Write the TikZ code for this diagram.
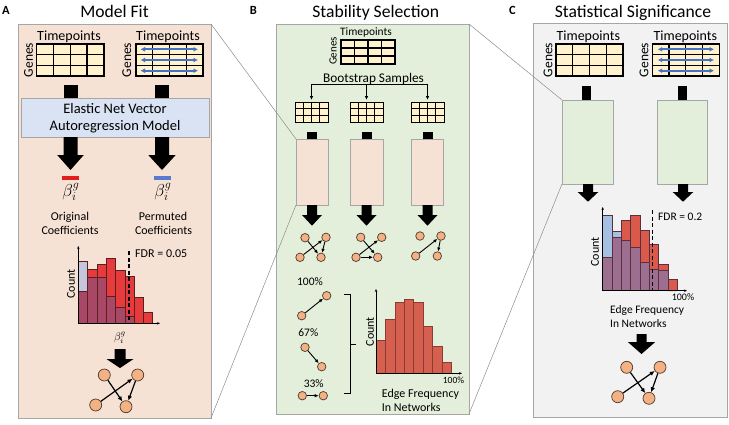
\documentclass[tikz,border=0pt]{standalone}
\usepackage{fontspec}
\setmainfont{Carlito}
\usetikzlibrary{arrows.meta}
\definecolor{pAfill}{HTML}{F6E2D5}
\definecolor{pBfill}{HTML}{E3EFDA}
\definecolor{pCfill}{HTML}{F2F2F2}
\definecolor{bordergray}{HTML}{A6A6A6}
\definecolor{enfill}{HTML}{DAE3F3}
\definecolor{cellfill}{HTML}{FFF2CC}
\definecolor{arrblue}{HTML}{4472C4}
\definecolor{nodefill}{HTML}{F4B183}
\definecolor{nodeline}{HTML}{4A3A30}
\definecolor{hAblue}{HTML}{C5C6DB}
\definecolor{hAred}{HTML}{E63A3C}
\definecolor{hAov}{HTML}{A94766}
\definecolor{hAline}{HTML}{5A2020}
\definecolor{hCblue}{HTML}{A6C0E4}
\definecolor{hCred}{HTML}{D95A4B}
\definecolor{hCov}{HTML}{9C6E90}
\definecolor{hCline}{HTML}{5A3040}
\definecolor{hBred}{HTML}{D5604F}
\definecolor{hBline}{HTML}{8C3B2F}
\definecolor{zoomgray}{HTML}{8C8C8C}
\definecolor{redbar}{HTML}{E31C1C}
\definecolor{bluebar}{HTML}{5A7ACD}
\tikzset{
  panel/.style={draw=bordergray, line width=0.9pt, inner sep=0pt, outer sep=0pt},
  txt/.style={font=\fontsize{#1}{#1}\selectfont, inner sep=0pt},
  boldlbl/.style={font=\fontsize{12.5}{12.5}\selectfont\bfseries, inner sep=0pt},
  gridl/.style={line width=1.3pt, black},
  gridls/.style={line width=1pt, black},
  netnode/.style={circle, fill=nodefill, draw=nodeline, line width=0.7pt, inner sep=0pt, minimum size=12pt},
  netnodeS/.style={netnode, minimum size=8.5pt},
  netedge/.style={-{Latex[length=5pt,width=4.5pt]}, line width=1.2pt},
  netedgeS/.style={-{Latex[length=4pt,width=3.5pt]}, line width=0.9pt},
  zoomline/.style={zoomgray, line width=0.5pt},
  axisl/.style={line width=0.6pt, -{Stealth[length=3pt,width=2.5pt]}},
  fdrline/.style={dash pattern=on 4pt off 2.5pt, line width=1.1pt},
  blueDA/.style={{Latex[length=4.5pt,width=5pt]}-{Latex[length=4.5pt,width=5pt]}, arrblue, line width=2pt},
  modelbox/.style={draw=bordergray, line width=0.8pt, inner sep=0pt, outer sep=0pt}
}
\newcommand{\gtab}[5]{%
  \fill[cellfill] (#2,#3) rectangle (#4,#5);
  \foreach \k in {1,2,3} \draw[#1] ({#2+\k*(#4-#2)/4},#3) -- ({#2+\k*(#4-#2)/4},#5);
  \foreach \k in {1,2} \draw[#1] (#2,{#3+\k*(#5-#3)/3}) -- (#4,{#3+\k*(#5-#3)/3});
  \draw[#1] (#2,#3) rectangle (#4,#5);
}
\newcommand{\blockarrow}[6]{%
  \fill[black] ({#1-#5},#2) -- ({#1+#5},#2) -- ({#1+#5},#3) -- ({#1+#6},#3) -- (#1,#4) -- ({#1-#6},#3) -- ({#1-#5},#3) -- cycle;
}
\newcommand{\bgi}{\ensuremath{\boldsymbol{\beta}_{i}^{g}}}
\begin{document}
\begin{tikzpicture}[x=1pt,y=-1pt]
\useasboundingbox (0,0) rectangle (729,424);

% ---------- panels ----------
\node[panel, fill=pAfill, minimum width=193pt, minimum height=394pt] (pA) at (114.5,221) {};
\node[panel, fill=pBfill, minimum width=193pt, minimum height=390pt] (pB) at (372.5,219) {};
\node[panel, fill=pCfill, minimum width=194pt, minimum height=394pt] (pC) at (630,220) {};

% labels and titles
\node[boldlbl] (labA) at (6,10) {A};
\node[boldlbl] (labB) at (253.5,10) {B};
\node[boldlbl] (labC) at (512.5,10) {C};
\node[txt=17.6, anchor=base] (titA) at (114.5,17.5) {Model Fit};
\node[txt=17.6, anchor=base] (titB) at (375.8,17.5) {Stability Selection};
\node[txt=17.6, anchor=base] (titC) at (633,17.5) {Statistical Significance};

% ---------- panel A ----------
\gtab{gridl}{36.5}{44}{104}{76}
\gtab{gridl}{136}{44}{203}{76}
\foreach \yy in {49.3,60,70.7} \draw[blueDA] (140.5,\yy) -- (198,\yy);
\node[txt=14, anchor=base] (tpA1) at (69,40.7) {Timepoints};
\node[txt=14, anchor=base] (tpA2) at (168,40.7) {Timepoints};
\node[txt=13.5, rotate=90] (gnA1) at (28.5,60) {Genes};
\node[txt=13.5, rotate=90] (gnA2) at (126.7,60) {Genes};
\fill[black] (63.5,85) rectangle (77.5,98);
\fill[black] (155,85) rectangle (169,98);
\node[modelbox, fill=enfill, minimum width=188pt, minimum height=39pt, align=center,
      font=\fontsize{14.5}{16.7}\selectfont] (enet) at (115,118) {Elastic Net Vector\\Autoregression Model};
\blockarrow{70.5}{137}{155}{170}{7}{13.3}
\blockarrow{162}{137}{155}{170}{7}{13.7}
\fill[redbar] (62,176) rectangle (79,180);
\fill[bluebar] (154,176) rectangle (171,180);
\node[txt=17] (btA1) at (71,192) {$\beta_i^g$};
\node[txt=17] (btA2) at (163,192) {$\beta_i^g$};
\node[txt=12, anchor=base] (orA1) at (70,220.7) {Original};
\node[txt=12, anchor=base] (orA2) at (70,234.3) {Coefficients};
\node[txt=12, anchor=base] (peA1) at (163,220.7) {Permuted};
\node[txt=12, anchor=base] (peA2) at (163.5,234.3) {Coefficients};
% histogram A
\foreach \i/\b/\r in {0/261/291,1/277/269,2/277/264,3/296/258.3,4/307.3/270,5/316/276.7,6/323.3/297.3,7/323.3/312.3}{
  \pgfmathsetmacro\hxl{78.3+\i*9.3}
  \pgfmathsetmacro\hxr{\hxl+9.3}
  \pgfmathsetmacro\hov{max(\b,\r)}
  \fill[hAblue] (\hxl,\b) rectangle (\hxr,323.3);
  \fill[hAred] (\hxl,\r) rectangle (\hxr,323.3);
  \fill[hAov] (\hxl,\hov) rectangle (\hxr,323.3);
  \draw[hAline, line width=0.5pt] (\hxl,\b) rectangle (\hxr,323.3);
  \draw[hAline, line width=0.5pt] (\hxl,\r) rectangle (\hxr,323.3);
}
\draw[axisl] (78.3,323.3) -- (78.3,246);
\draw[axisl] (78.3,323.3) -- (160,323.3);
\draw[fdrline] (129,251) -- (129,323.3);
\node[txt=12, anchor=base west] (fdrA) at (135,257.7) {FDR = 0.05};
\node[txt=12, rotate=90] (cnA) at (71,284) {Count};
\node[txt=11] (btA3) at (120,338) {$\beta_i^g$};
\blockarrow{120}{349}{359}{368}{5.5}{13.5}
\node[netnode] (a1) at (104.3,375) {};
\node[netnode] (a2) at (137.7,375) {};
\node[netnode] (a3) at (95.7,405) {};
\node[netnode] (a4) at (126,406.7) {};
\draw[netedge] (a1) -- (a4);
\draw[netedge] (a3) -- (a2);
\draw[netedge] (a2) -- (a4);

% ---------- panel B ----------
\gtab{gridl}{341}{40}{395}{64}
\node[txt=11.4, anchor=base] (tpB) at (366,35.7) {Timepoints};
\node[txt=11, rotate=90] (gnB) at (333,51) {Genes};
\node[txt=13.3, anchor=base] (bsB) at (373.5,82) {Bootstrap Samples};
\coordinate (bs1) at (311.5,84.3);
\coordinate (bs3) at (427.5,84.3);
\draw[line width=0.9pt] (bs1) -- (bs3);
\foreach \xx in {311.5,366.5,427.5} \draw[line width=0.9pt, -{Latex[length=4pt,width=3.5pt]}] (\xx,84.3) -- (\xx,100);
\gtab{gridls}{295}{102}{328}{122}
\gtab{gridls}{350}{102}{383}{122}
\gtab{gridls}{411}{102}{444}{122}
\foreach \xx in {312,366.5,427.5} \fill[black] ({\xx-5},132) rectangle ({\xx+5},139);
\node[modelbox, fill=pAfill, minimum width=32pt, minimum height=66pt] (bx1) at (312,172) {};
\node[modelbox, fill=pAfill, minimum width=33pt, minimum height=66pt] (bx2) at (366.5,172) {};
\node[modelbox, fill=pAfill, minimum width=32pt, minimum height=66pt] (bx3) at (427.5,172) {};
\blockarrow{312}{205}{215}{225.7}{5}{10}
\blockarrow{366.5}{205}{215}{225.7}{5}{10}
\blockarrow{427.5}{205}{215}{225.7}{5}{10}
% networks
\node[netnodeS] (n11) at (305,237.7) {};
\node[netnodeS] (n12) at (326,237.3) {};
\node[netnodeS] (n13) at (300,257.3) {};
\node[netnodeS] (n14) at (321,257.3) {};
\draw[netedgeS] (n11) -- (n14);
\draw[netedgeS] (n13) -- (n12);
\draw[netedgeS] (n12) -- (n14);
\node[netnodeS] (n21) at (360.7,237.3) {};
\node[netnodeS] (n22) at (381.7,237.3) {};
\node[netnodeS] (n23) at (356,257.3) {};
\node[netnodeS] (n24) at (377.7,257.3) {};
\draw[netedgeS] (n21) -- (n24);
\draw[netedgeS] (n23) -- (n22);
\draw[netedgeS] (n23) -- (n24);
\node[netnodeS] (n31) at (420,236) {};
\node[netnodeS] (n32) at (441,236) {};
\node[netnodeS] (n33) at (415.7,256) {};
\node[netnodeS] (n34) at (437.3,256) {};
\draw[netedgeS] (n33) -- (n32);
\draw[netedgeS] (n32) -- (n34);
% edge frequencies
\node[txt=11.5, anchor=base] (p100) at (310,285) {100\%};
\node[netnodeS] (e1a) at (301.7,315.7) {};
\node[netnodeS] (e1b) at (326.7,295.7) {};
\draw[netedgeS] (e1a) -- (e1b);
\node[txt=11.5, anchor=base] (p67) at (308.3,336) {67\%};
\node[netnodeS] (e2a) at (305,347.3) {};
\node[netnodeS] (e2b) at (321.7,366.7) {};
\draw[netedgeS] (e2a) -- (e2b);
\node[txt=11.5, anchor=base] (p33) at (313.7,387.3) {33\%};
\node[netnodeS] (e3a) at (302.3,395.7) {};
\node[netnodeS] (e3b) at (323.3,395.7) {};
\draw[netedgeS] (e3a) -- (e3b);
\draw[line width=0.9pt] (344,294.3) -- (350,294.3) -- (350,393.3) -- (344,393.3);
\draw[line width=0.9pt] (350,344.3) -- (356,344.3);
% histogram B
\foreach \i/\t in {0/340,1/319.3,2/302.7,3/299,4/302.7,5/326.7,6/346.7,7/362.3}{
  \pgfmathsetmacro\hxl{376+\i*9.4}
  \pgfmathsetmacro\hxr{\hxl+9.4}
  \filldraw[fill=hBred, draw=hBline, line width=0.6pt] (\hxl,\t) rectangle (\hxr,373.3);
}
\draw[axisl] (376,373.3) -- (376,289);
\draw[axisl] (376,373.3) -- (462,373.3);
\node[txt=12, rotate=90] (cnB) at (370,331.7) {Count};
\node[txt=9.5, anchor=base] (h100B) at (453.5,383.3) {100\%};
\node[txt=12, anchor=base west] (efB1) at (381.7,397.7) {Edge Frequency};
\node[txt=12, anchor=base west] (efB2) at (381.7,411.7) {In Networks};

% ---------- panel C ----------
\gtab{gridl}{556}{44}{623}{76}
\gtab{gridl}{652.3}{44}{719.3}{76}
\foreach \yy in {49.3,60,70.7} \draw[blueDA] (657.7,\yy) -- (714,\yy);
\node[txt=14, anchor=base] (tpC1) at (588.3,40.7) {Timepoints};
\node[txt=14, anchor=base] (tpC2) at (685.3,40.7) {Timepoints};
\node[txt=13.5, rotate=90] (gnC1) at (548,60) {Genes};
\node[txt=13.5, rotate=90] (gnC2) at (644,60) {Genes};
\fill[black] (582,86) rectangle (591,100);
\fill[black] (678,86) rectangle (687,100);
\node[modelbox, fill=pBfill, minimum width=51pt, minimum height=84pt] (cx1) at (587.5,142) {};
\node[modelbox, fill=pBfill, minimum width=50pt, minimum height=84pt] (cx2) at (682,142) {};
\blockarrow{588}{184}{192}{201.7}{5}{10.3}
\blockarrow{683}{184}{192}{201.7}{5}{10.3}
% histogram C
\foreach \i/\b/\r in {0/215.7/257.3,1/231/237.3,2/240.7/220.7,3/247.7/215.7,4/262.3/230.7,5/269/244.3,6/270.7/264.3,7/290.7/279.3}{
  \pgfmathsetmacro\hxl{602.7+\i*9.33}
  \pgfmathsetmacro\hxr{\hxl+9.33}
  \pgfmathsetmacro\hov{max(\b,\r)}
  \fill[hCblue] (\hxl,\b) rectangle (\hxr,290.7);
  \fill[hCred] (\hxl,\r) rectangle (\hxr,290.7);
  \fill[hCov] (\hxl,\hov) rectangle (\hxr,290.7);
  \draw[hCline, line width=0.5pt] (\hxl,\b) rectangle (\hxr,290.7);
  \draw[hCline, line width=0.5pt] (\hxl,\r) rectangle (\hxr,290.7);
}
\draw[axisl] (602.7,290.7) -- (602.7,207);
\draw[axisl] (602.7,290.7) -- (687,290.7);
\draw[fdrline] (652.7,210) -- (652.7,290.7);
\node[txt=11.5, anchor=base west] (fdrC) at (658,220) {FDR = 0.2};
\node[txt=12, rotate=90] (cnC) at (595,252) {Count};
\node[txt=10, anchor=base] (h100C) at (683,300.7) {100\%};
\node[txt=11.5, anchor=base west] (efC1) at (610,313.3) {Edge Frequency};
\node[txt=11.5, anchor=base west] (efC2) at (610,327.3) {In Networks};
\blockarrow{641.5}{334}{342}{354}{5}{13.7}
\node[netnode] (c1) at (626.7,367.3) {};
\node[netnode] (c2) at (660,367.3) {};
\node[netnode] (c3) at (617.7,396.7) {};
\node[netnode] (c4) at (649,398.3) {};
\draw[netedge] (c1) -- (c4);
\draw[netedge] (c3) -- (c2);
\draw[netedge] (c2) -- (c4);

% ---------- zoom lines ----------
\draw[zoomline] (pA.north east) -- (bx1.north west);
\draw[zoomline] (pA.south east) -- (bx1.south west);
\draw[zoomline] (pB.north east) -- (cx1.north west);
\draw[zoomline] (pB.south east) -- (cx1.south west);
\end{tikzpicture}
\end{document}
